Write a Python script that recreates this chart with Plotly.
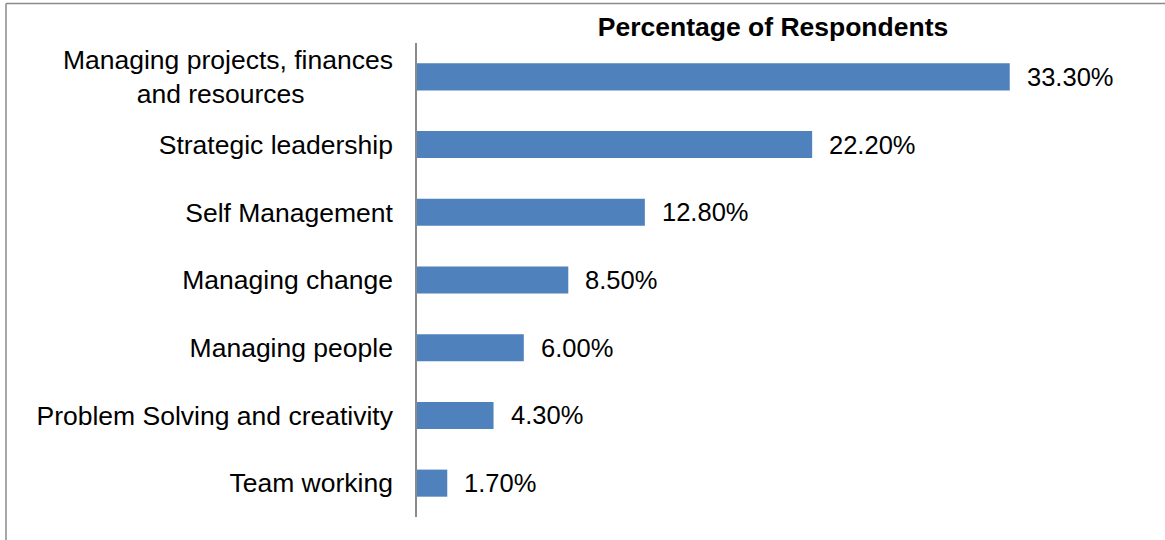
import plotly.graph_objects as go

categories = [
    "Managing projects, finances<br>and resources" + "\u00a0" * 12,
    "Strategic leadership",
    "Self Management",
    "Managing change",
    "Managing people",
    "Problem Solving and creativity",
    "Team working",
]
values = [33.3, 22.2, 12.8, 8.5, 6.0, 4.3, 1.7]
value_labels = ["33.30%", "22.20%", "12.80%", "8.50%", "6.00%", "4.30%", "1.70%"]
title_text = "Percentage of Respondents"

W, H = 1165, 540
ml, mr, mt, mb = 417, 36, 43, 23
pw = W - ml - mr
ph = H - mt - mb

font_family = "Liberation Sans, Arial, sans-serif"

fig = go.Figure()
fig.add_trace(go.Bar(
    x=values, y=categories, orientation="h",
    marker=dict(color="#4F81BD", line=dict(width=0)),
    hoverinfo="skip",
))

for v, c, t in zip(values, categories, value_labels):
    fig.add_annotation(x=v, y=c, text=t, showarrow=False, xanchor="left",
                       xshift=15, font=dict(size=25.5, color="#000000", family=font_family))

# outer border (top and left visible)
bx = (6 - ml) / pw
by = 1 + (mt - 3.5) / ph
fig.add_shape(type="line", xref="paper", yref="paper", x0=bx, x1=2, y0=by, y1=by,
              line=dict(color="#8A8A8A", width=1.5))
fig.add_shape(type="line", xref="paper", yref="paper", x0=bx, x1=bx, y0=by, y1=-1,
              line=dict(color="#8A8A8A", width=1.5))

fig.update_layout(
    width=W, height=H,
    margin=dict(l=ml, r=mr, t=mt, b=mb),
    paper_bgcolor="white", plot_bgcolor="white",
    bargap=0.6,
    showlegend=False,
    font=dict(family=font_family, size=26.5, color="#000000"),
    title=dict(text="<b>" + title_text + "</b>", x=(ml + pw / 2) / W, xanchor="center",
               y=1 - 27 / H, yanchor="middle", font=dict(size=26.5, color="#000000")),
    xaxis=dict(range=[0, 40], visible=False, fixedrange=True),
    yaxis=dict(autorange="reversed", showline=True, linecolor="#8A8A8A", linewidth=1.5,
               ticks="", showgrid=False, zeroline=False, ticklabelstandoff=17,
               tickfont=dict(size=26.5, color="#000000"), fixedrange=True),
)

fig.write_html("out.html", config={"displayModeBar": False},
               post_script="document.body.style.margin='0';")
